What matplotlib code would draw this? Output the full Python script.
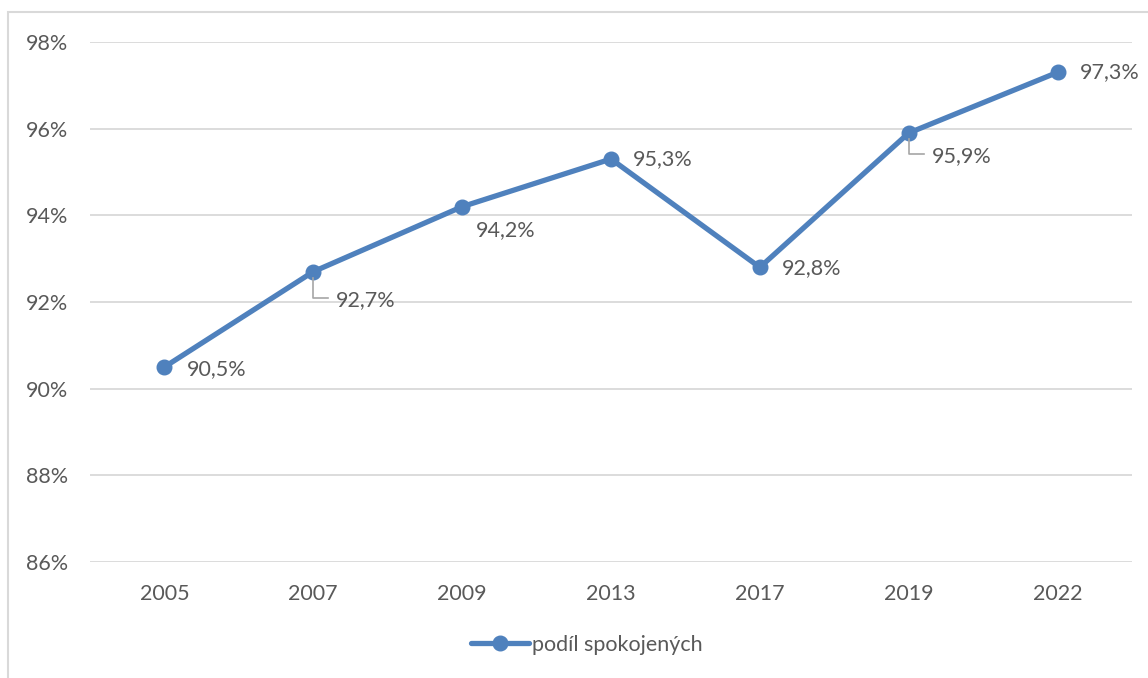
import matplotlib
matplotlib.use("Agg")
import matplotlib.pyplot as plt
from matplotlib.patches import Rectangle

years = ["2005", "2007", "2009", "2013", "2017", "2019", "2022"]
values = [90.5, 92.7, 94.2, 95.3, 92.8, 95.9, 97.3]
series_name = "podíl spokojených"
y_ticks = [86, 88, 90, 92, 94, 96, 98]

# label offsets in pixels (dx, dy; dy negative = below)
label_offsets = [(22, -2), (23, -28), (14, -23), (22, 0), (22, -1), (23, -23), (22, 0)]
leaders = [False, True, False, False, False, True, False]

plt.rcParams['font.family'] = ['Lato', 'DejaVu Sans']
text_color = "#595959"
line_color = "#4F81BD"
grid_color = "#D9D9D9"
fs = 15.5

W, H = 1148, 678
fig = plt.figure(figsize=(W / 100, H / 100), dpi=100)
ax = fig.add_axes([90 / W, 1 - 562 / H, (1132 - 90) / W, (562 - 42) / H])

x = list(range(len(years)))
ax.plot(x, values, color=line_color, lw=3.8, marker="o", ms=10.5,
        solid_capstyle="round", label=series_name, zorder=3)

ax.set_xlim(-0.5, len(years) - 0.5)
ax.set_ylim(86, 98)
ax.set_yticks(y_ticks)
ax.set_yticklabels([f"{t}%" for t in y_ticks])
ax.set_xticks(x)
ax.set_xticklabels(years)
ax.tick_params(axis="both", length=0, labelsize=fs, colors=text_color)
ax.tick_params(axis="x", pad=16)
ax.tick_params(axis="y", pad=16)
ax.grid(axis="y", color=grid_color, lw=1.3)
ax.set_axisbelow(True)
for s in ax.spines.values():
    s.set_visible(False)

for i, (v, (dx, dy), ld) in enumerate(zip(values, label_offsets, leaders)):
    ax.annotate(f"{v:.1f}%".replace(".", ","), xy=(i, v), xytext=(dx, dy),
                textcoords="offset pixels", ha="left", va="center",
                fontsize=fs, color=text_color, zorder=4)
    if ld:
        # leader line: down from point then right
        tr = ax.transData
        px, py = tr.transform((i, v))
        pts = [(px, py - 6), (px, py + dy + 2), (px + dx - 8, py + dy + 2)]
        inv = fig.transFigure.inverted()
        fpts = [inv.transform(p) for p in pts]
        fig.lines.append(matplotlib.lines.Line2D([p[0] for p in fpts], [p[1] for p in fpts],
                                                 transform=fig.transFigure, color="#A6A6A6",
                                                 lw=1.2, zorder=2))

leg = fig.legend(loc="center", bbox_to_anchor=(0.5 + 13 / W, 1 - 645 / H), frameon=False,
                 fontsize=fs, handlelength=2.7, handletextpad=0.15)
for t in leg.get_texts():
    t.set_color(text_color)

fig.patches.append(Rectangle((8 / W, -0.1), 1.2, 1 - 12 / H + 0.1, transform=fig.transFigure,
                             fill=False, edgecolor=grid_color, lw=1.5))

fig.savefig("out.png", dpi=100)
